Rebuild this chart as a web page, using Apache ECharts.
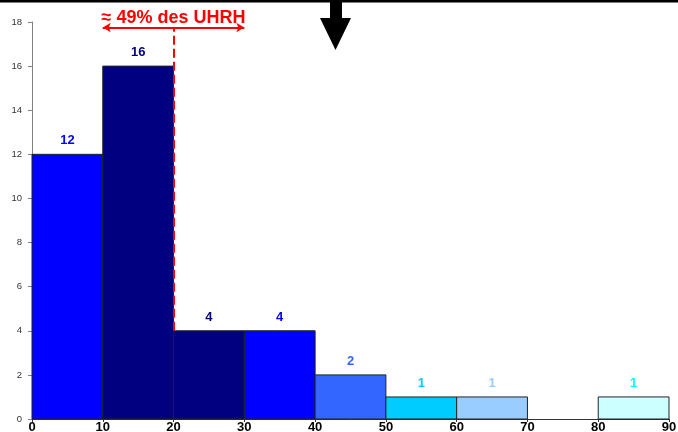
<!DOCTYPE html>
<html>
<head>
<meta charset="utf-8">
<script src="https://cdn.jsdelivr.net/npm/echarts@6/dist/echarts.min.js"></script>
<style>
  html, body { margin: 0; padding: 0; background: #fff; }
  #chart { width: 678px; height: 432px; }
</style>
</head>
<body>
<div id="chart"></div>
<script>
// Histogram bins (lower edge, upper edge) and counts per bin
const binStarts = [0, 10, 20, 30, 40, 50, 60, 70, 80];
const binEnds   = [10, 20, 30, 40, 50, 60, 70, 80, 90];
const counts    = [12, 16, 4, 4, 2, 1, 1, 0, 1];
const binColors = ['#0000FF', '#000080', '#000080', '#0000FF', '#3366FF', '#00CCFF', '#99CCFF', '#CCFFFF', '#CCFFFF'];
const labelColors = ['#0000FF', '#000080', '#000080', '#0000FF', '#3366FF', '#00CCFF', '#99CCFF', '#00FFFF', '#00FFFF'];
const xTicks = [0, 10, 20, 30, 40, 50, 60, 70, 80, 90];
const yTicks = [0, 2, 4, 6, 8, 10, 12, 14, 16, 18];
const thresholdX = 20;
const spanStart = 10, spanEnd = 30;
const annotationText = '≈ 49% des UHRH';

const data = binStarts.map((s, i) => [s, binEnds[i], counts[i], i]);

const chart = echarts.init(document.getElementById('chart'), null, { renderer: 'canvas' });

chart.setOption({
  animation: false,
  grid: { left: 32, right: 9, top: 22, bottom: 13, containLabel: false, outerBoundsMode: 'none' },
  xAxis: {
    type: 'value',
    min: xTicks[0], max: xTicks[xTicks.length - 1], interval: 10,
    axisLine: { show: true, onZero: false, lineStyle: { color: '#333', width: 1 } },
    axisTick: { show: true, length: 3, lineStyle: { color: '#333' } },
    splitLine: { show: false },
    axisLabel: {
      margin: 2,
      fontFamily: 'Liberation Sans, Arial, sans-serif',
      fontSize: 13, fontWeight: 'bold',
      color: v => (v === thresholdX ? '#FF0000' : '#000'),
      formatter: v => String(v)
    }
  },
  yAxis: {
    type: 'value',
    min: yTicks[0], max: yTicks[yTicks.length - 1], interval: 2,
    axisLine: { show: true, lineStyle: { color: '#808080', width: 1 } },
    axisTick: { show: true, length: 4, lineStyle: { color: '#808080' } },
    splitLine: { show: false },
    axisLabel: {
      margin: 10,
      fontFamily: 'Liberation Sans, Arial, sans-serif',
      fontSize: 9.5, color: '#333'
    }
  },
  series: [
    {
      type: 'custom',
      data: data,
      encode: { x: [0, 1], y: 2 },
      renderItem: function (params, api) {
        const s = api.value(0), e = api.value(1), c = api.value(2), idx = api.value(3);
        if (!c) return null;
        const p0 = api.coord([s, c]);
        const p1 = api.coord([e, 0]);
        return {
          type: 'group',
          children: [
            {
              type: 'rect',
              shape: { x: p0[0], y: p0[1], width: p1[0] - p0[0], height: p1[1] - p0[1] },
              style: { fill: binColors[idx], stroke: '#222', lineWidth: 1 }
            },
            {
              type: 'text',
              style: {
                x: (p0[0] + p1[0]) / 2, y: p0[1] - 7,
                text: String(c),
                fill: labelColors[idx],
                font: 'bold 13px "Liberation Sans", Arial, sans-serif',
                textAlign: 'center', textVerticalAlign: 'bottom'
              }
            }
          ]
        };
      },
      z: 2
    },
    {
      // dashed threshold line and the double-headed span arrow
      type: 'line',
      data: [],
      z: 3,
      markLine: {
        silent: true,
        animation: false,
        data: [
          [
            { coord: [thresholdX, 4], symbol: 'none', lineStyle: { color: '#FF0000', width: 2, type: [9, 4] } },
            { coord: [thresholdX, 17.75], symbol: 'none' }
          ],
          [
            {
              coord: [spanStart, 17.75], symbol: 'arrow', symbolSize: [7, 8],
              lineStyle: { color: '#FF0000', width: 2, type: 'solid' },
              label: {
                show: true, position: 'middle', distance: 0,
                formatter: annotationText,
                color: '#FF0000',
                fontFamily: 'Liberation Sans, Arial, sans-serif',
                fontSize: 18, fontWeight: 'bold'
              }
            },
            { coord: [spanEnd, 17.75], symbol: 'arrow', symbolSize: [7, 8] }
          ]
        ],
        label: { show: false }
      }
    }
  ],
  graphic: [
    {
      type: 'rect', left: 0, top: 0, z: 10,
      shape: { x: 0, y: 0, width: 678, height: 2.5 },
      style: { fill: '#000' }
    },
    {
      type: 'polygon', z: 10,
      shape: { points: [[330, 0], [342, 0], [342, 18], [351, 18], [335.5, 50], [320, 18], [330, 18]] },
      style: { fill: '#000' }
    }
  ]
});
</script>
</body>
</html>
